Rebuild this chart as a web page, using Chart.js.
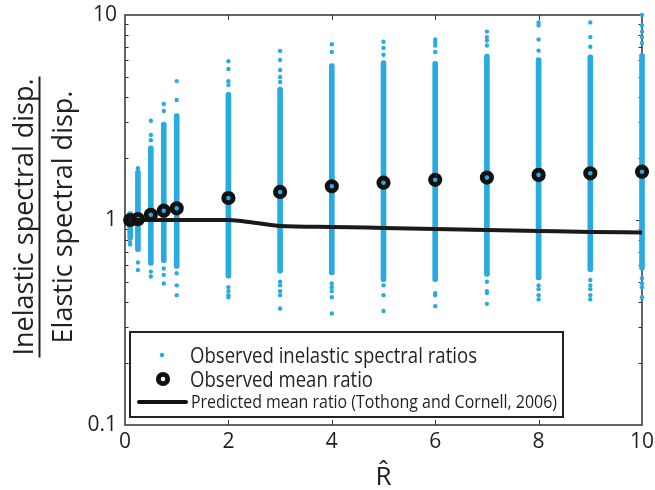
<!DOCTYPE html>
<html>
<head>
<meta charset="utf-8">
<script src="https://cdn.jsdelivr.net/npm/chart.js@4"></script>
<style>
html, body { margin: 0; padding: 0; background: #fff; }
</style>
</head>
<body>
<canvas id="chart" width="655" height="490"></canvas>
<script>
// R-hat values where records were analysed
var rHat = [0.1, 0.25, 0.5, 0.75, 1, 2, 3, 4, 5, 6, 7, 8, 9, 10];

// dense part of each column of observed ratios (low / high end)
var coreLow  = [0.80, 0.70, 0.60, 0.62, 0.58, 0.52, 0.55, 0.54, 0.50, 0.50, 0.53, 0.51, 0.56, 0.57];
var coreHigh = [1.10, 1.75, 2.30, 3.00, 3.30, 4.20, 4.45, 5.80, 6.00, 5.95, 6.45, 6.20, 6.40, 6.50];

// scattered ratios above / below the dense part
var tailRatios = [
    [0.78, 0.76],
    [1.79, 0.62, 0.57],
    [3.05, 2.60, 2.45, 0.56, 0.53],
    [3.68, 3.40, 0.58, 0.54, 0.49],
    [4.76, 3.85, 0.55, 0.48, 0.43],
    [5.95, 5.45, 4.75, 4.55, 0.47, 0.45, 0.43, 0.42],
    [6.68, 6.03, 5.39, 4.98, 4.71, 0.50, 0.48, 0.45, 0.43, 0.37],
    [7.20, 6.60, 0.49, 0.47, 0.45, 0.42, 0.35],
    [7.40, 6.90, 6.40, 0.48, 0.43, 0.36],
    [7.60, 7.35, 7.10, 6.60, 0.44, 0.43, 0.38],
    [8.30, 7.80, 7.50, 7.10, 0.50, 0.45, 0.44, 0.39],
    [9.20, 8.90, 7.60, 6.70, 0.48, 0.46, 0.43, 0.41],
    [9.20, 7.80, 7.00, 0.51, 0.48, 0.46, 0.43, 0.41],
    [10.0, 8.90, 8.30, 7.80, 7.30, 0.52, 0.49, 0.47, 0.42]
];

var meanRatio = [1.00, 1.01, 1.06, 1.11, 1.14, 1.28, 1.37, 1.46, 1.52, 1.57, 1.61, 1.66, 1.69, 1.72];

// Tothong and Cornell (2006) prediction
var predX     = [0, 1, 2, 2.5, 3, 4, 5, 6, 7, 8, 9, 10];
var predRatio = [1.00, 1.00, 1.00, 0.97, 0.935, 0.925, 0.915, 0.905, 0.895, 0.885, 0.875, 0.87];

var yTicks = [0.1, 1, 10];
var xTicks = [0, 2, 4, 6, 8, 10];

var BLUE = '#29abe2';
var INK = '#231f20';
var FONT = '"Open Sans", "DejaVu Sans", sans-serif';

var tailPoints = [];
rHat.forEach(function (x, i) {
    tailRatios[i].forEach(function (v) { tailPoints.push({x: x, y: v}); });
});

// frame, inward ticks and titles
var decorations = {
    id: 'decorations',
    beforeDatasetsDraw: function (chart) {
        var ctx = chart.ctx, a = chart.chartArea;
        var xs = chart.scales.x, ys = chart.scales.y;
        ctx.save();
        ctx.strokeStyle = '#333';
        ctx.lineWidth = 1.5;
        ctx.strokeRect(a.left, a.top, a.right - a.left, a.bottom - a.top);
        ctx.lineWidth = 1;
        ctx.beginPath();
        [2, 4, 6, 8].forEach(function (v) {
            var px = Math.round(xs.getPixelForValue(v)) + 0.5;
            ctx.moveTo(px, a.bottom); ctx.lineTo(px, a.bottom - 5);
            ctx.moveTo(px, a.top); ctx.lineTo(px, a.top + 5);
        });
        [0.1, 1].forEach(function (dec) {
            for (var k = 1; k <= 9; k++) {
                var v = dec * k;
                if (k === 1 && dec === 0.1) continue;
                var py = Math.round(ys.getPixelForValue(v)) + 0.5;
                var len = k === 1 ? 6 : 3.5;
                ctx.moveTo(a.left, py); ctx.lineTo(a.left + len, py);
                ctx.moveTo(a.right, py); ctx.lineTo(a.right - len, py);
            }
        });
        ctx.stroke();
        ctx.restore();
    },
    afterDraw: function (chart) {
        var ctx = chart.ctx, a = chart.chartArea;
        ctx.save();
        ctx.fillStyle = INK;

        // y title as a fraction
        var top = 'Inelastic spectral disp.';
        var bottom = 'Elastic spectral disp.';
        var cy = 217;
        ctx.font = '27px ' + FONT;
        var w1 = ctx.measureText(top).width;
        ctx.textAlign = 'center';
        ctx.textBaseline = 'alphabetic';
        ctx.save();
        ctx.translate(33, cy);
        ctx.rotate(-Math.PI / 2);
        ctx.fillText(top, 0, 0);
        ctx.restore();
        ctx.save();
        ctx.translate(72, cy);
        ctx.rotate(-Math.PI / 2);
        ctx.fillText(bottom, 0, 0);
        ctx.restore();
        ctx.strokeStyle = INK;
        ctx.lineWidth = 2;
        ctx.beginPath();
        ctx.moveTo(39.5, cy - w1 / 2 - 2);
        ctx.lineTo(39.5, cy + w1 / 2 + 2);
        ctx.stroke();

        // x title
        ctx.font = '26px ' + FONT;
        ctx.fillText('R\u0302', (a.left + a.right) / 2, 485);

        // legend box
        var lx = 130, ly = 332, lw = 433, lh = 85;
        ctx.fillStyle = '#fff';
        ctx.fillRect(lx, ly, lw, lh);
        ctx.strokeStyle = '#222';
        ctx.lineWidth = 2;
        ctx.strokeRect(lx, ly, lw, lh);

        ctx.fillStyle = BLUE;
        ctx.beginPath();
        ctx.arc(162, 355, 2.2, 0, Math.PI * 2);
        ctx.fill();

        ctx.strokeStyle = '#111';
        ctx.lineWidth = 4.8;
        ctx.beginPath();
        ctx.arc(163, 379, 4.7, 0, Math.PI * 2);
        ctx.stroke();

        ctx.lineWidth = 4;
        ctx.lineCap = 'round';
        ctx.beginPath();
        ctx.moveTo(139, 402);
        ctx.lineTo(186, 402);
        ctx.stroke();

        ctx.fillStyle = INK;
        ctx.textAlign = 'left';
        fitText(ctx, 'Observed inelastic spectral ratios', 190, 362.5, 287, '21px ' + FONT);
        fitText(ctx, 'Observed mean ratio', 190, 386.5, 183, '21px ' + FONT);
        fitText(ctx, 'Predicted mean ratio (Tothong and Cornell, 2006)', 191, 408, 366, '18px ' + FONT);
        ctx.restore();
    }
};

function fitText(ctx, text, x, y, width, font) {
    ctx.save();
    ctx.font = font;
    var w = ctx.measureText(text).width;
    ctx.translate(x, y);
    ctx.scale(width / w, 1);
    ctx.fillText(text, 0, 0);
    ctx.restore();
}

var tickFont = {family: FONT, size: 21};

new Chart(document.getElementById('chart').getContext('2d'), {
    type: 'scatter',
    data: {
        datasets: [{
            type: 'scatter',
            label: 'Observed mean ratio',
            data: rHat.map(function (x, i) { return {x: x, y: meanRatio[i]}; }),
            pointRadius: 4.7,
            pointHoverRadius: 4.7,
            borderWidth: 4.8,
            borderColor: '#111',
            backgroundColor: 'rgba(0,0,0,0)',
            clip: false,
            order: 0
        }, {
            type: 'line',
            label: 'Predicted mean ratio (Tothong and Cornell, 2006)',
            data: predX.map(function (x, i) { return {x: x, y: predRatio[i]}; }),
            borderColor: '#1a1a1a',
            borderWidth: 4,
            pointRadius: 0,
            cubicInterpolationMode: 'monotone',
            fill: false,
            order: 1
        }, {
            type: 'bar',
            label: 'Observed inelastic spectral ratios',
            data: rHat.map(function (x, i) { return {x: x, y: [coreLow[i], coreHigh[i]]}; }),
            backgroundColor: BLUE,
            borderWidth: 0,
            borderRadius: 2.5,
            borderSkipped: false,
            barThickness: 5,
            grouped: false,
            clip: false,
            order: 2
        }, {
            type: 'scatter',
            label: 'Observed inelastic spectral ratios',
            data: tailPoints,
            pointRadius: 2.2,
            borderWidth: 0,
            backgroundColor: BLUE,
            clip: false,
            order: 3
        }]
    },
    options: {
        responsive: false,
        animation: false,
        layout: {padding: {top: 15, right: 13, left: 0, bottom: 0}},
        plugins: {
            legend: {display: false},
            tooltip: {enabled: false}
        },
        scales: {
            x: {
                type: 'linear',
                min: 0,
                max: 10,
                offset: false,
                grid: {display: false, drawTicks: false, offset: false},
                border: {display: false},
                afterBuildTicks: function (s) { s.ticks = xTicks.map(function (v) { return {value: v}; }); },
                ticks: {font: tickFont, color: INK, padding: 4, maxRotation: 0},
                afterFit: function (s) {
                    s.height = 65;
                    s.paddingLeft = 0;
                    s.paddingRight = 0;
                }
            },
            y: {
                type: 'logarithmic',
                min: 0.1,
                max: 10,
                grid: {display: false, drawTicks: false},
                border: {display: false},
                afterBuildTicks: function (s) { s.ticks = yTicks.map(function (v) { return {value: v}; }); },
                ticks: {
                    font: tickFont,
                    color: INK,
                    padding: 8,
                    callback: function (v) { return String(v); }
                },
                afterFit: function (s) {
                    s.width = 125;
                    s.paddingTop = 0;
                    s.paddingBottom = 0;
                }
            }
        }
    },
    plugins: [decorations]
});
</script>
</body>
</html>
